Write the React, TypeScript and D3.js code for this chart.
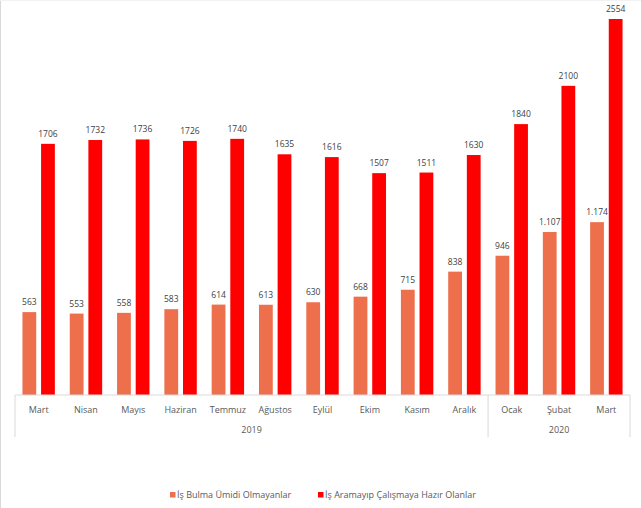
import React from "react";
import * as d3 from "d3";

const months = ["Mart", "Nisan", "Mayıs", "Haziran", "Temmuz", "Ağustos", "Eylül", "Ekim", "Kasım", "Aralık", "Ocak", "Şubat", "Mart"];
const years = [
  { label: "2019", from: 0, to: 10 },
  { label: "2020", from: 10, to: 13 },
];
const seriesNames = ["İş Bulma Ümidi Olmayanlar", "İş Aramayıp Çalışmaya Hazır Olanlar"];
const umitsiz = [563, 553, 558, 583, 614, 613, 630, 668, 715, 838, 946, 1107, 1174];
const hazir = [1706, 1732, 1736, 1726, 1740, 1635, 1616, 1507, 1511, 1630, 1840, 2100, 2554];
const colors = ["#EE6F4C", "#FF0000"];

const W = 641, H = 508;
const left = 15, right = 630, baseY = 395, topY = 19;

export default function App() {
  const idx = months.map((_, i) => i);
  const x = d3.scaleBand<number>().domain(idx).range([left, right]).paddingInner(0).paddingOuter(0);
  const y = d3.scaleLinear().domain([0, 2554]).range([baseY, topY]);
  const bw = x.bandwidth();
  const inner = d3.scaleBand<number>().domain([0, 1]).range([0, bw]).paddingInner(0.26).paddingOuter(0.4);
  const fmt = (v: number) => (v >= 1000 ? d3.format(",")(v).replace(",", ".") : String(v));
  const font = "'Open Sans', 'Noto Sans', sans-serif";
  const series = [umitsiz, hazir];
  const lblFmt = (s: number, v: number) => (s === 0 ? fmt(v) : String(v));
  return (
    <svg width={W} height={H} style={{ position: "absolute", left: 0, top: 0 }} fontFamily={font}>
      <rect x={0} y={0} width={W} height={H} fill="#fff" />
      <line x1={0.5} x2={0.5} y1={0} y2={H} stroke="#d9d9d9" />
      <line x1={0} x2={W} y1={0.5} y2={0.5} stroke="#f2f2f2" />
      {series.map((vals, s) =>
        vals.map((v, i) => {
          const bx = (x(i) as number) + (inner(s) as number);
          return (
            <g key={`${s}-${i}`}>
              <rect x={bx} y={y(v)} width={inner.bandwidth()} height={baseY - y(v)} fill={colors[s]} />
              <text x={bx + inner.bandwidth() / 2} y={y(v) - 7} textAnchor="middle" fontSize={8.5} fill="#404040">
                {lblFmt(s, v)}
              </text>
            </g>
          );
        })
      )}
      <line x1={left} x2={right} y1={baseY} y2={baseY} stroke="#d9d9d9" />
      {[0, 10, 13].map((i) => {
        const xx = i === 13 ? right : (x(i) as number);
        return <line key={i} x1={xx} x2={xx} y1={baseY} y2={437} stroke="#d9d9d9" />;
      })}
      {months.map((m, i) => (
        <text key={i} x={(x(i) as number) + bw / 2} y={413} textAnchor="middle" fontSize={9} fill="#595959">
          {m}
        </text>
      ))}
      {years.map((yr) => {
        const x0 = x(yr.from) as number;
        const x1 = yr.to === 13 ? right : (x(yr.to) as number);
        return (
          <text key={yr.label} x={(x0 + x1) / 2} y={433} textAnchor="middle" fontSize={9} fill="#595959">
            {yr.label}
          </text>
        );
      })}
      {seriesNames.map((n, s) => {
        const lx = s === 0 ? 170 : 318;
        return (
          <g key={n}>
            <rect x={lx} y={492} width={5.5} height={5.5} fill={colors[s]} />
            <text x={lx + 7} y={498} fontSize={9} fill="#595959">
              {n}
            </text>
          </g>
        );
      })}
    </svg>
  );
}
